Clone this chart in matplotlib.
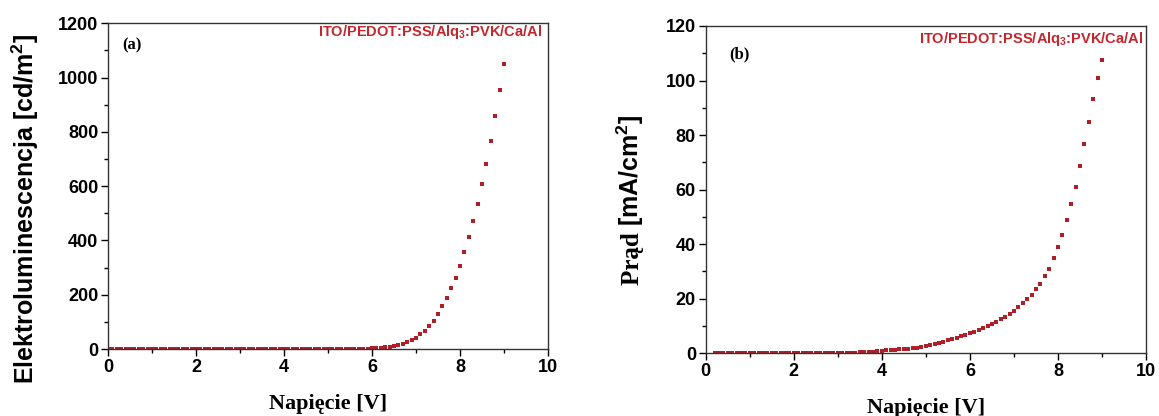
import numpy as np
import matplotlib
matplotlib.use("Agg")
import matplotlib.pyplot as plt
from matplotlib.ticker import MultipleLocator

plt.rcParams['mathtext.default'] = 'regular'

# --- dane ---
napiecie_a = np.round(np.arange(0, 9.01, 0.1), 1)
elektroluminescencja = [
    0, 0, 0, 0, 0, 0, 0, 0, 0, 0,
    0, 0, 0, 0, 0, 0, 0, 0, 0, 0,
    0, 0, 0, 0, 0, 0, 0, 0, 0, 0,
    0, 0, 0, 0, 0, 0, 0, 0, 0, 0,
    0, 0, 0, 0, 0, 0, 0, 0, 0, 0,
    0, 0, 0, 0, 0, 0.3, 0.5, 0.8, 1.1, 1.5,
    2, 3, 4, 6, 8, 11, 15, 20, 26, 33,
    42, 55, 68, 86, 105, 130, 157, 188, 225, 262,
    306, 357, 412, 470, 536, 607, 682, 768, 858, 953,
    1049,
]

napiecie_b = np.round(np.arange(0.2, 9.01, 0.1), 1)
prad = [
    0.05, 0.05, 0.05, 0.05, 0.05, 0.05, 0.05, 0.05,
    0.05, 0.05, 0.05, 0.05, 0.05, 0.05, 0.05, 0.05, 0.05, 0.05,
    0.05, 0.05, 0.05, 0.05, 0.05, 0.05, 0.05, 0.05, 0.05, 0.05, 0.05,
    0.1, 0.15, 0.2, 0.25, 0.3, 0.4, 0.5, 0.6, 0.8,
    1.0, 1.1, 1.2, 1.3, 1.4, 1.5, 1.7, 1.9, 2.1, 2.4,
    2.7, 3.0, 3.4, 3.8, 4.2, 4.7, 5.2, 5.7, 6.2, 6.7,
    7.3, 7.9, 8.7, 9.3, 10.0, 10.7, 11.6, 12.5, 13.4, 14.5,
    15.6, 17.0, 18.3, 19.9, 21.5, 23.5, 25.5, 28.2, 31.0, 34.8,
    38.9, 43.3, 48.8, 54.6, 61.0, 68.5, 76.7, 84.9, 93.3, 100.9,
    107.4,
]

opis = "ITO/PEDOT:PSS/Alq$_3$:PVK/Ca/Al"
kolor_pkt = '#b01e28'
kolor_tekst = '#c4262e'
sans = 'Liberation Sans'
serif = 'Liberation Serif'

fig = plt.figure(figsize=(11.59, 4.16), dpi=100)
ax1 = fig.add_axes([0.0932, 0.161, 0.3796, 0.783])
ax2 = fig.add_axes([0.6089, 0.1507, 0.3799, 0.7868])


def styl_osi(ax, ymax, ymajor):
    ax.set_xlim(0, 10)
    ax.set_ylim(0, ymax)
    ax.xaxis.set_major_locator(MultipleLocator(2))
    ax.xaxis.set_minor_locator(MultipleLocator(1))
    ax.yaxis.set_major_locator(MultipleLocator(ymajor))
    ax.yaxis.set_minor_locator(MultipleLocator(ymajor / 2))
    ax.tick_params(which='major', direction='out', length=5, width=1, pad=2,
                   labelsize=13, top=False, right=False)
    ax.tick_params(which='minor', direction='out', length=3, width=1,
                   top=False, right=False)
    for lab in ax.get_xticklabels() + ax.get_yticklabels():
        lab.set_fontfamily(sans)
        lab.set_fontweight('bold')
    for s in ax.spines.values():
        s.set_color('#333333')
        s.set_linewidth(1.0)
    ax.set_xlabel("Napięcie [V]", family=serif, fontweight='bold', fontsize=16, labelpad=13)


# (a) elektroluminescencja
ax1.plot(napiecie_a, elektroluminescencja, 's', color=kolor_pkt, markersize=2.8, markeredgewidth=0)
styl_osi(ax1, 1200, 200)
ax1.set_ylabel("Elektroluminescencja [cd/m$^2$]", family=sans, fontweight='bold', fontsize=18)
ax1.yaxis.set_label_coords(-0.152, 0.43)
ax1.text(0.033, 0.932, "(a)", transform=ax1.transAxes, family=serif, fontweight='bold',
         fontsize=12, ha='left', va='center')
ax1.text(0.986, 0.974, opis, transform=ax1.transAxes, family=sans, fontweight='bold',
         fontsize=10.5, color=kolor_tekst, ha='right', va='center')

# (b) prad
ax2.plot(napiecie_b, prad, 's', color=kolor_pkt, markersize=2.8, markeredgewidth=0)
styl_osi(ax2, 120, 20)
ax2.text(-0.151, 0.39, "Prąd ", transform=ax2.transAxes, family=serif, fontweight='bold',
         fontsize=18, rotation=90, rotation_mode='anchor', ha='right', va='baseline')
ax2.text(-0.151, 0.39, "[mA/cm$^2$]", transform=ax2.transAxes, family=sans, fontweight='bold',
         fontsize=18, rotation=90, rotation_mode='anchor', ha='left', va='baseline')
ax2.text(0.053, 0.913, "(b)", transform=ax2.transAxes, family=serif, fontweight='bold',
         fontsize=12, ha='left', va='center')
ax2.text(0.9925, 0.959, opis, transform=ax2.transAxes, family=sans, fontweight='bold',
         fontsize=10.5, color=kolor_tekst, ha='right', va='center')

fig.savefig("out.png", dpi=100)
